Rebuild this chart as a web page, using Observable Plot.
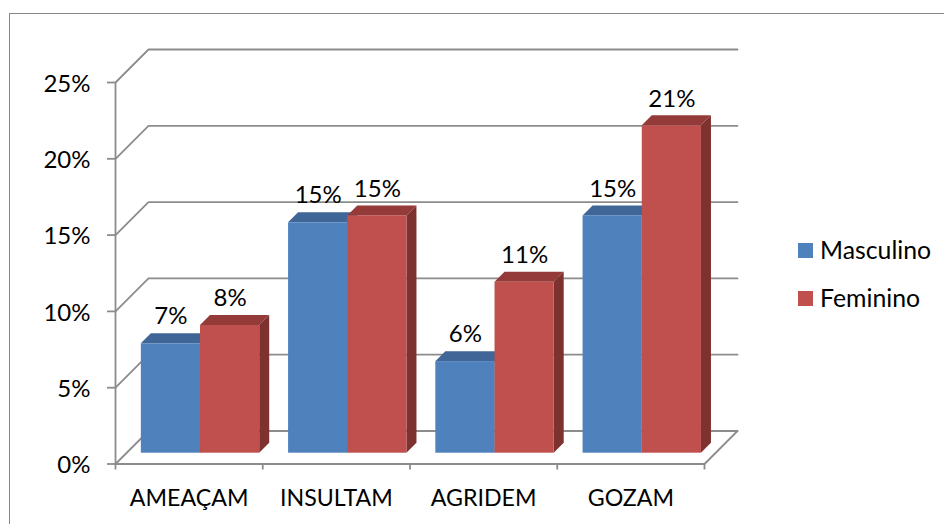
<!DOCTYPE html>
<html><head><meta charset="utf-8">
<script src="https://cdn.jsdelivr.net/npm/d3@7"></script>
<script src="https://cdn.jsdelivr.net/npm/@observablehq/plot@0.6"></script>
<style>
html,body{margin:0;padding:0;background:#fff;}
#wrap{position:relative;width:944px;height:524px;overflow:hidden;font-family:Lato,sans-serif;color:#000;}
#frame{position:absolute;left:9px;top:13px;right:-5px;bottom:-5px;border:1.5px solid #868686;pointer-events:none;}
#legend{position:absolute;left:798px;top:226px;font-size:24.8px;line-height:48px;}
#legend div{display:flex;align-items:center;height:48px;}
#legend i{display:inline-block;width:15px;height:15px;margin-right:7px;}
svg{position:absolute;left:0;top:0;}
</style></head>
<body><div id="wrap"></div>
<script>
const categories = ["AMEAÇAM", "INSULTAM", "AGRIDEM", "GOZAM"];
const masculino = [7.17, 15.1, 6.0, 15.55];
const feminino = [8.37, 15.55, 11.2, 21.45];
const masculinoLabels = ["7%", "15%", "6%", "15%"];
const femininoLabels = ["8%", "15%", "11%", "21%"];
const yTicks = [0, 5, 10, 15, 20, 25];
const seriesNames = ["Masculino", "Feminino"];
const colors = {Masculino: "#4f81bd", Feminino: "#c0504d"};
const topColors = {Masculino: "#3f6696", Feminino: "#943b39"};
const sideColors = {Masculino: "#3a5f8c", Feminino: "#7e3230"};

// oblique projection, in scale units
const wallX = 0.224, wallY = 2.163;
const floorX = 0.0774, floorY = 0.708;
const barW = 0.402, depthX = 0.0679, depthY = 0.655;
const axisColor = "#8c8c8c";

const rows = [];
categories.forEach((c, i) => {
  seriesNames.forEach((s, k) => {
    const v = (k === 0 ? masculino : feminino)[i];
    const x1 = i + 0.5 + floorX + (k - 1) * barW;
    rows.push({category: c, series: s, value: v, label: (k === 0 ? masculinoLabels : femininoLabels)[i],
      x1, x2: x1 + barW, base: floorY, top: floorY + v});
  });
});

const gridRows = yTicks.flatMap(t => [
  {t, x: 0, y: t},
  {t, x: wallX, y: t + wallY},
  {t, x: 4 + wallX, y: t + wallY}
]);

const faces = rows.flatMap(r => [
  Plot.areaX([{y: r.top, a: r.x1, b: r.x2}, {y: r.top + depthY, a: r.x1 + depthX, b: r.x2 + depthX}],
    {y: "y", x1: "a", x2: "b", fill: topColors[r.series], curve: "linear"}),
  Plot.areaY([{x: r.x2, a: r.base, b: r.top}, {x: r.x2 + depthX, a: r.base + depthY, b: r.top + depthY}],
    {x: "x", y1: "a", y2: "b", fill: sideColors[r.series], curve: "linear"}),
  Plot.rect([r], {x1: "x1", x2: "x2", y1: "base", y2: "top", fill: colors[r.series]})
]);

const chart = Plot.plot({
  width: 944, height: 524,
  marginLeft: 115, marginRight: 240, marginTop: 82, marginBottom: 60.5,
  style: {fontFamily: "Lato, sans-serif", background: "transparent", color: "#000"},
  x: {domain: [0, 4], axis: null},
  y: {domain: [0, 25], axis: null},
  marks: [
    Plot.line(gridRows, {x: "x", y: "y", z: "t", stroke: axisColor, strokeWidth: 1.8, curve: "linear"}),
    Plot.line([{x: 4, y: 0}, {x: 4 + wallX, y: wallY}], {x: "x", y: "y", stroke: axisColor, strokeWidth: 1.8}),
    Plot.ruleX([0], {y1: 0, y2: 25, stroke: axisColor, strokeWidth: 1.8}),
    Plot.ruleY([0], {x1: 0, x2: 4, stroke: axisColor, strokeWidth: 1.8}),
    Plot.axisY(yTicks, {anchor: "left", tickSize: 8, stroke: axisColor, strokeWidth: 1.8, tickFormat: () => "", label: null}),
    Plot.axisY(yTicks, {anchor: "left", tickSize: 0, tickPadding: 25, dy: 1.5, fill: "#000", fontSize: 24, tickFormat: d => d + "%", label: null}),
    Plot.axisX([0, 1, 2, 3, 4], {anchor: "bottom", tickSize: 6, stroke: axisColor, strokeWidth: 1.8, tickFormat: () => "", label: null}),
    Plot.axisX(categories.map((c, i) => i + 0.5), {anchor: "bottom", tickSize: 0, tickPadding: 24, dy: 1.5, fill: "#000", fontSize: 23.2, tickFormat: d => categories[d - 0.5], label: null}),
    ...faces,
    Plot.text(rows, {x: d => (d.x1 + d.x2) / 2, y: "top", text: "label", dy: -27, fill: "#000", fontSize: 24})
  ]
});

const wrap = document.getElementById("wrap");
wrap.appendChild(chart);
const frame = document.createElement("div"); frame.id = "frame"; wrap.appendChild(frame);
const legend = document.createElement("div"); legend.id = "legend";
seriesNames.forEach(s => {
  const row = document.createElement("div");
  const sw = document.createElement("i"); sw.style.background = colors[s];
  row.appendChild(sw); row.appendChild(document.createTextNode(s));
  legend.appendChild(row);
});
wrap.appendChild(legend);
</script></body></html>
